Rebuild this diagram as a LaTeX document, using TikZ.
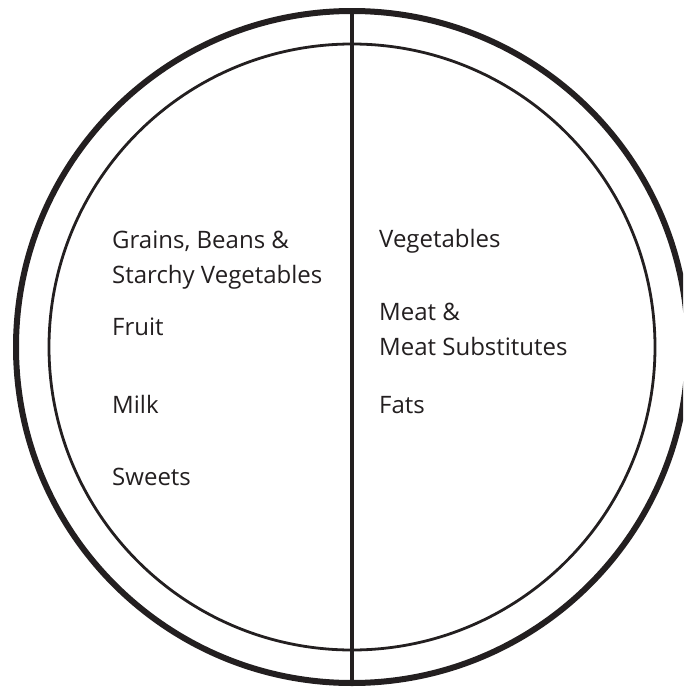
\documentclass[tikz,border=0pt]{standalone}
\usepackage{fontspec}
\setmainfont{Open Sans}
\usepackage{xcolor}
\usetikzlibrary{positioning, calc}
\definecolor{ink}{HTML}{231F20}

\begin{document}
\begin{tikzpicture}[x=1pt, y=-1pt,
    food/.style={anchor=base west, inner sep=0pt, align=left, text=ink,
      font=\fontsize{24}{35}\selectfont}]
  \useasboundingbox (0,0) rectangle (683,688);
  \clip (0,0) rectangle (683,688);

  % Plate centre and rims
  \coordinate (O) at (352,347);
  \draw[ink, line width=6pt] (O) circle (336);
  \draw[ink, line width=2.8pt] (O) circle (303);

  % Dividing line
  \coordinate (T) at (352,11);
  \coordinate (B) at (352,683);
  \draw[ink, line width=4.5pt] (T) -- (B);

  % Left half (base = last line)
  \node[food] (grains) at (112,283) {Grains, Beans \&\\Starchy Vegetables};
  \node[food] (fruit) at (112,335) {Fruit};
  \node[food] (milk) at (112,413) {Milk};
  \node[food] (sweets) at (112,485) {Sweets};

  % Right half
  \node[food] (veg) at (379,247) {Vegetables};
  \node[food] (meat) at (379,355) {Meat \&\\Meat Substitutes};
  \node[food] (fats) at (379,413) {Fats};
\end{tikzpicture}
\end{document}
